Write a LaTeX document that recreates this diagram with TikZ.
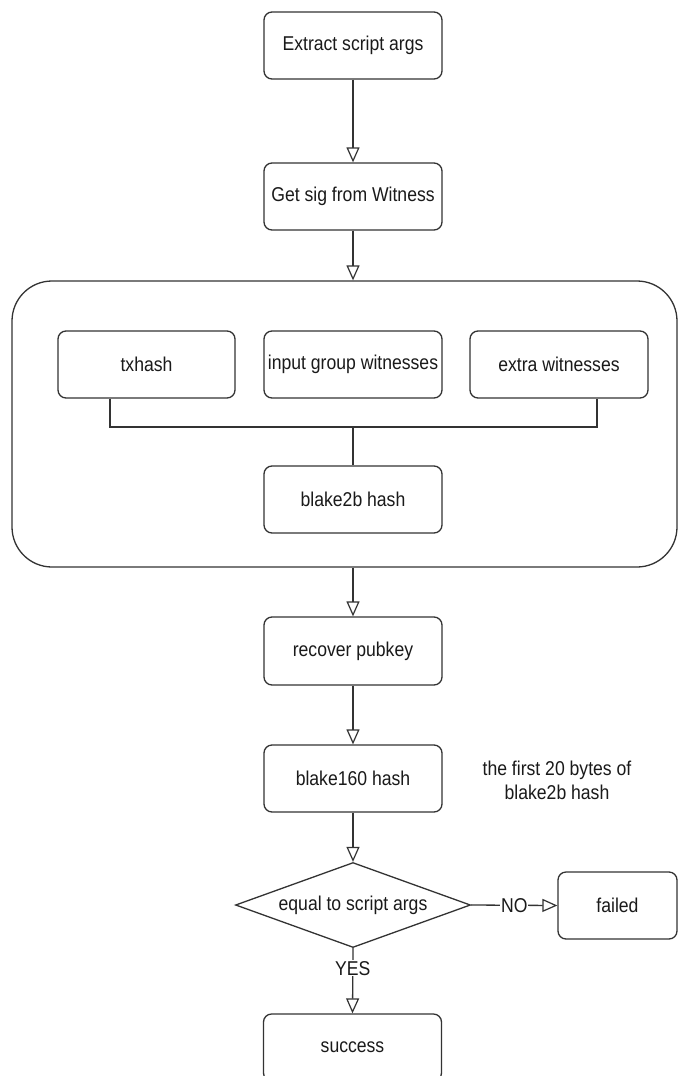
\documentclass[tikz,border=0pt]{standalone}
\usepackage{fontspec}
\setmainfont{Liberation Sans}
\newfontfamily\diagfont[FakeStretch=0.88]{Liberation Sans}
\usetikzlibrary{arrows.meta,shapes.geometric}
\definecolor{ln}{HTML}{333333}
\definecolor{tx}{HTML}{1A1A1A}
\begin{document}
\begin{tikzpicture}[x=1pt,y=-1pt,
  every node/.style={text=tx,font=\diagfont\fontsize{20}{24}\selectfont},
  stepbox/.style={draw=ln,line width=1.3pt,rounded corners=8pt,minimum width=178pt,minimum height=67pt,inner sep=0pt},
  groupbox/.style={draw=ln,line width=1.3pt,rounded corners=40pt,minimum width=665pt,minimum height=286pt,inner sep=0pt},
  decbox/.style={draw=ln,line width=1.3pt,shape=diamond,aspect=2.76,minimum width=235pt,minimum height=85pt,inner sep=0pt},
  flow/.style={draw=ln,line width=1.3pt,-{Triangle[open,length=15pt,width=13pt,line width=1.2pt]}},
  link/.style={draw=ln,line width=1.3pt},
  lbl/.style={fill=white,inner sep=1pt}]
\clip (0,0) rectangle (679,1076);
\fill[white] (0,0) rectangle (679,1076);

\node[stepbox] (extract) at (353,45.5) {Extract script args};
\node[stepbox] (getsig) at (353,196.5) {Get sig from Witness};
\node[groupbox] (grp) at (344.5,424) {};
\node[stepbox,minimum width=177pt] (txhash) at (146.5,364.5) {txhash};
\node[stepbox] (input) at (353,364.5) {input group witnesses};
\node[stepbox] (extra) at (559,364.5) {extra witnesses};
\node[stepbox] (blake2b) at (353,499.5) {blake2b hash};
\node[stepbox,minimum height=68pt] (recover) at (353,651) {recover pubkey};
\node[stepbox] (blake160) at (353,778.5) {blake160 hash};
\node[align=center] (note) at (557,780) {the first 20 bytes of\\blake2b hash};
\node[decbox] (dec) at (353,905) {equal to script args};
\node[stepbox,minimum width=119pt] (failed) at (617.5,905.5) {failed};
\node[stepbox] (success) at (352.5,1047.5) {success};

\coordinate (jl) at (110,427);
\coordinate (jr) at (597,427);
\coordinate (jm) at (353,427);

\draw[flow] (extract.south) -- (getsig.north);
\draw[flow] (getsig.south) -- (getsig.south |- grp.north);
\draw[link] (txhash.south -| jl) -- (jl) -- (jr) -- (extra.south -| jr);
\draw[link] (jm) -- (blake2b.north);
\draw[flow] (recover.north |- grp.south) -- (recover.north);
\draw[flow] (recover.south) -- (blake160.north);
\draw[flow] (blake160.south) -- (dec.north);
\draw[flow] (dec.east) -- node[lbl] (no) {NO} (failed.west);
\draw[flow] (dec.south) -- node[lbl,pos=0.31] (yes) {YES} (success.north);
\end{tikzpicture}
\end{document}
